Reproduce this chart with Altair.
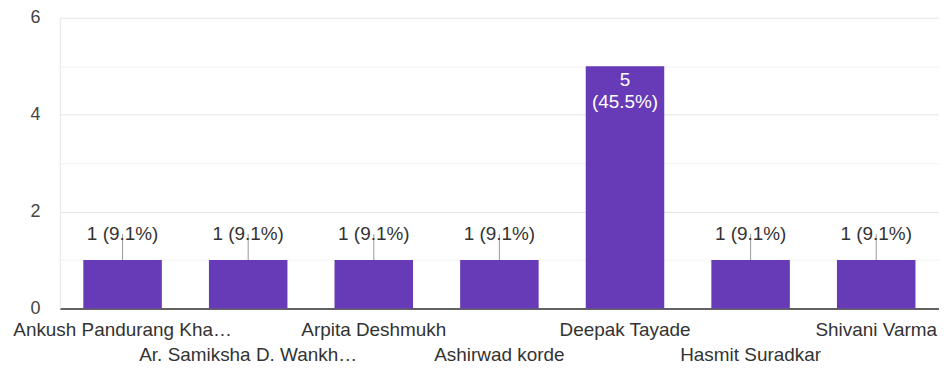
import altair as alt
import pandas as pd

names = ["Ankush Pandurang Kha…", "Ar. Samiksha D. Wankh…", "Arpita Deshmukh",
         "Ashirwad korde", "Deepak Tayade", "Hasmit Suradkar", "Shivani Varma"]
counts = [1, 1, 1, 1, 5, 1, 1]
pct_labels = ["1 (9.1%)", "1 (9.1%)", "1 (9.1%)", "1 (9.1%)", "5\n(45.5%)", "1 (9.1%)", "1 (9.1%)"]
y_ticks = [0, 1, 2, 3, 4, 5, 6]

df = pd.DataFrame({"name": names, "count": counts, "label": pct_labels})
df["row"] = [i % 2 for i in range(len(names))]
df["inside"] = df["count"] > 3

FONT = "Liberation Sans"
PURPLE = "#673ab7"
FS = 19

xscale = alt.Scale(domain=names, paddingInner=0.375, paddingOuter=0.1875)
yscale = alt.Scale(domain=[0, 6], nice=False)

base = alt.Chart(df)

bars = base.mark_bar(color=PURPLE).encode(
    x=alt.X("name:N", scale=xscale, sort=names,
            axis=alt.Axis(title=None, labels=False, ticks=False, domain=True,
                          domainColor="#333333", domainWidth=1.5, grid=False)),
    y=alt.Y("count:Q", scale=yscale,
            axis=alt.Axis(title=None, values=y_ticks, ticks=False,
                          labelExpr="datum.value % 2 ? '' : datum.label",
                          labelFont=FONT, labelFontSize=18, labelColor="#444444",
                          labelPadding=20, domainColor="#e6e6e6",
                          gridColor={"condition": {"test": "datum.value % 2 === 1", "value": "#f2f2f2"},
                                     "value": "#e3e3e3"})),
)

outside = base.transform_filter("!datum.inside")

leaders = outside.mark_rule(color="#999999", strokeWidth=1, y2Offset=-26).encode(
    x=alt.X("name:N", scale=xscale, sort=names),
    y=alt.Y("count:Q", scale=yscale),
    y2=alt.Y2("count:Q"),
)

out_text = outside.mark_text(font=FONT, fontSize=FS, color="#333333", dy=-20,
                             baseline="alphabetic").encode(
    x=alt.X("name:N", scale=xscale, sort=names),
    y=alt.Y("count:Q", scale=yscale),
    text="label:N",
)

in_text = base.transform_filter("datum.inside").transform_calculate(
    lines="split(datum.label, '\\n')"
).mark_text(font=FONT, fontSize=FS, color="white", dy=20, lineHeight=22,
            baseline="alphabetic").encode(
    x=alt.X("name:N", scale=xscale, sort=names),
    y=alt.Y("count:Q", scale=yscale),
    text="lines:N",
)

row0 = base.transform_filter("datum.row == 0").mark_text(
    font=FONT, fontSize=FS, color="#333333", baseline="alphabetic").encode(
    x=alt.X("name:N", scale=xscale, sort=names),
    y=alt.value(320),
    text="name:N",
)
row1 = base.transform_filter("datum.row == 1").mark_text(
    font=FONT, fontSize=FS, color="#333333", baseline="alphabetic").encode(
    x=alt.X("name:N", scale=xscale, sort=names),
    y=alt.value(345),
    text="name:N",
)

chart = alt.layer(bars, leaders, out_text, in_text, row0, row1).properties(
    width=883, height=292,
    autosize=alt.AutoSizeParams(type="none"),
    padding={"left": 52, "top": 9, "right": 0, "bottom": 60},
).configure_view(stroke=None)

chart.save("out.html", embed_options={"renderer": "svg", "actions": False})
